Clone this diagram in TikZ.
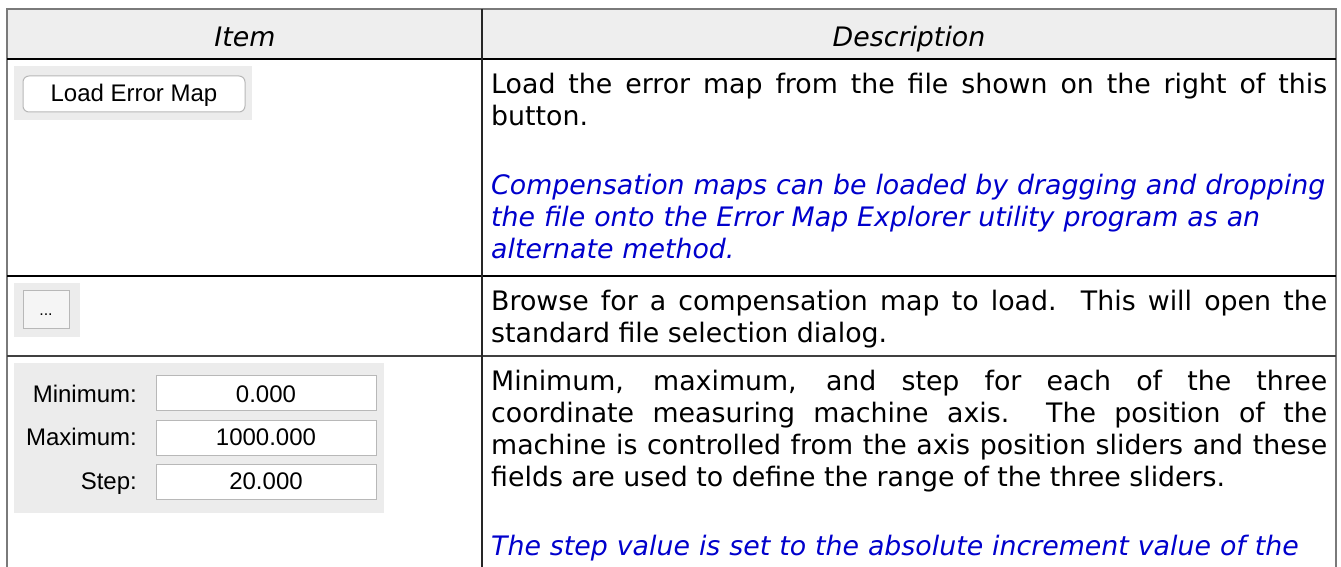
\documentclass[tikz,border=0pt]{standalone}
\usepackage{fontspec}
\setmainfont{DejaVu Sans}
\newfontfamily\guifont{Liberation Sans}
\usetikzlibrary{positioning}
\definecolor{hdrgray}{HTML}{EEEEEE}
\definecolor{panelgray}{HTML}{ECECEC}
\definecolor{noteblue}{RGB}{0,0,204}
\definecolor{rulegray}{HTML}{7A7A7A}
\definecolor{edgegray}{HTML}{B8B8B8}
\begin{document}
\begin{tikzpicture}[x=1pt,y=-1pt,
    desc/.style={anchor=base west,inner sep=0pt,text width=836pt,align=justify,
      font=\fontsize{26.8}{32}\selectfont},
    note/.style={anchor=base west,inner sep=0pt,text width=836pt,align=left,
      text=noteblue,font=\fontsize{26.8}{32}\selectfont\itshape},
    head/.style={anchor=base,inner sep=0pt,font=\fontsize{26.8}{32}\selectfont\itshape},
    gui/.style={inner sep=0pt,font=\guifont\fontsize{24}{28}\selectfont},
    btn/.style={draw=edgegray,fill=white,line width=1pt,inner sep=0pt},
    field/.style={draw=edgegray,fill=white,line width=1pt,inner sep=0pt,
      minimum width=220pt,minimum height=35pt}]
  \useasboundingbox (0,0) rectangle (1341,567);
  % table frame
  \fill[hdrgray] (7,9) rectangle (1336,59);
  \draw[line width=1.2pt,rulegray] (7,567) -- (7,9) -- (1336,9) -- (1336,567);
  \draw[line width=1.2pt] (7,59) -- (1336,59);
  \draw[line width=1.2pt] (7,276) -- (1336,276);
  \draw[line width=1.2pt,black!75] (7,356) -- (1336,356);
  \draw[line width=1.2pt,black!85] (482,9) -- (482,567);
  \node[head] (item) at (245,47) {Item};
  \node[head] (descr) at (909,47) {Description};
  % row 1
  \fill[panelgray] (14,66) rectangle (252,120);
  \node[btn,rounded corners=6pt,minimum width=222pt,minimum height=36pt] (loadbtn) at (134,94) {};
  \node[gui,anchor=base] (loadtxt) at (134,102) {Load Error Map};
  \node[desc] (loaddesc) at (491,94)
    {Load the error map from the file shown on the right of this\linebreak button.};
  \node[note] (loadnote) at (491,194)
    {Compensation maps can be loaded by dragging and dropping\\
     the file onto the Error Map Explorer utility program as an\\
     alternate method.};
  % row 2
  \fill[panelgray] (14,283) rectangle (80,337);
  \node[btn,fill=black!4,minimum width=46pt,minimum height=38pt] (browsebtn) at (46,309) {};
  \node[gui,anchor=base,font=\guifont\fontsize{16}{18}\selectfont] (browsetxt) at (46,315) {...};
  \node[desc] (browsedesc) at (491,310)
    {Browse for a compensation map to load.\ \ This will open the\linebreak
     standard file selection dialog.};
  % row 3
  \fill[panelgray] (14,363) rectangle (384,513);
  \node[field] (minfield) at (266,393) {};
  \node[field] (maxfield) at (266,437.5) {};
  \node[field] (stepfield) at (266,481.5) {};
  \node[gui,anchor=base east] (minlbl) at (137,402) {Minimum:};
  \node[gui,anchor=base east] (maxlbl) at (137,445) {Maximum:};
  \node[gui,anchor=base east] (steplbl) at (137,489) {Step:};
  \node[gui,anchor=base] (minval) at (266,402) {0.000};
  \node[gui,anchor=base] (maxval) at (266,445) {1000.000};
  \node[gui,anchor=base] (stepval) at (266,489) {20.000};
  \node[desc] (rangedesc) at (491,390)
    {Minimum, maximum, and step for each of the three\linebreak
     coordinate measuring machine axis.\ \ The position of the\linebreak
     machine is controlled from the axis position sliders and these\linebreak
     fields are used to define the range of the three sliders.};
  \node[note] (stepnote) at (491,555)
    {The step value is set to the absolute increment value of the};
\end{tikzpicture}
\end{document}
